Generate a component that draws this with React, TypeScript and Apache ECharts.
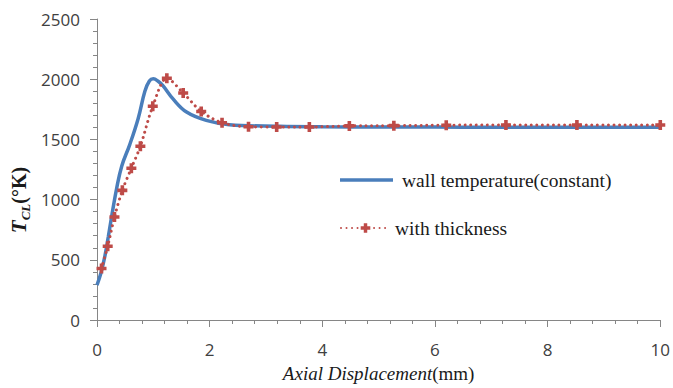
import React, { useEffect, useRef } from "react";
import * as echarts from "echarts";

const blueX = [0, 0.07, 0.14, 0.2, 0.26, 0.35, 0.44, 0.58, 0.73, 0.85, 0.93, 1.0, 1.08, 1.17, 1.35, 1.59, 1.94, 2.35, 3.24, 4, 5, 6, 7, 8, 9, 10];
const blueY = [290, 390, 530, 690, 860, 1096, 1280, 1455, 1672, 1900, 1985, 2003, 1985, 1946, 1836, 1727, 1658, 1622, 1609, 1605, 1603, 1602, 1601, 1600, 1600, 1600];

const redX = [0.08, 0.19, 0.31, 0.45, 0.61, 0.77, 0.99, 1.24, 1.53, 1.85, 2.22, 2.69, 3.19, 3.77, 4.48, 5.27, 6.2, 7.26, 8.52, 10];
const redY = [428, 612, 855, 1077, 1261, 1443, 1775, 2008, 1886, 1732, 1638, 1605, 1603, 1603, 1612, 1614, 1618, 1620, 1620, 1620];

const seriesNames = ["wall temperature(constant)", "with thickness"];
const xTicks = { min: 0, max: 10, interval: 2 };
const yTicks = { min: 0, max: 2500, interval: 500 };

const BLUE = "#4A7EBB";
const RED = "#BE4B48";
const AXIS = "#868686";
const LABEL = "#404040";
const PLUS = "path://M3.2,0 H6.8 V3.2 H10 V6.8 H6.8 V10 H3.2 V6.8 H0 V3.2 H3.2 Z";

export default function App() {
  const ref = useRef<HTMLDivElement>(null);
  useEffect(() => {
    document.body.style.margin = "0";
    const chart = echarts.init(ref.current!, null, { renderer: "svg" });
    const axisCommon = {
      type: "value" as const,
      axisLine: { show: true, lineStyle: { color: AXIS, width: 1 } },
      axisTick: { show: true, inside: false, length: 7, lineStyle: { color: AXIS } },
      minorTick: { show: true, splitNumber: 5, length: 4, lineStyle: { color: AXIS } },
      splitLine: { show: false },
      minorSplitLine: { show: false },
      axisLabel: { color: LABEL, fontFamily: "Open Sans", fontSize: 17, formatter: (v: number) => String(v) },
    };
    chart.setOption({
      animation: false,
      backgroundColor: "#fff",
      grid: { left: 97, right: 11, top: 19, bottom: 65, containLabel: false },
      xAxis: {
        ...axisCommon,
        min: xTicks.min,
        max: xTicks.max,
        interval: xTicks.interval,
        axisLabel: { ...axisCommon.axisLabel, margin: 21 },
        name: "{i|Axial Displacement}{n|(mm)}",
        nameLocation: "middle",
        nameGap: 44,
        nameTextStyle: {
          rich: {
            i: { fontFamily: "Liberation Serif", fontStyle: "italic", fontSize: 19, color: "#1a1a1a" },
            n: { fontFamily: "Liberation Serif", fontSize: 19, color: "#1a1a1a" },
          },
        },
      },
      yAxis: {
        ...axisCommon,
        min: yTicks.min,
        max: yTicks.max,
        interval: yTicks.interval,
        axisLabel: { ...axisCommon.axisLabel, margin: 17 },
      },
      legend: [
        {
          data: [{ name: seriesNames[0], icon: "rect" }],
          left: 340,
          top: 170,
          padding: 0,
          itemWidth: 53,
          itemHeight: 3.5,
          textStyle: { fontFamily: "Liberation Serif", fontSize: 19.5, color: "#1a1a1a", padding: [0, 0, 0, 4] },
        },
        {
          data: [seriesNames[1]],
          left: 340,
          top: 218,
          padding: 0,
          itemWidth: 49,
          itemHeight: 12,
          textStyle: { fontFamily: "Liberation Serif", fontSize: 19.5, color: "#1a1a1a" },
        },
      ],
      graphic: [
        {
          type: "text",
          x: 19,
          y: 200,
          rotation: Math.PI / 2,
          style: {
            text: "{t|T}{s|CL}{p|(°K)}",
            align: "center",
            verticalAlign: "middle",
            rich: {
              t: { fontFamily: "Liberation Serif", fontStyle: "italic", fontWeight: "bold", fontSize: 21, lineHeight: 26, fill: "#1a1a1a" },
              s: { fontFamily: "Liberation Serif", fontStyle: "italic", fontWeight: "bold", fontSize: 13, lineHeight: 13, verticalAlign: "bottom", fill: "#1a1a1a" },
              p: { fontFamily: "Liberation Serif", fontWeight: "bold", fontSize: 20, lineHeight: 26, fill: "#1a1a1a" },
            },
          },
        },
      ],
      series: [
        {
          name: seriesNames[0],
          type: "line",
          data: blueX.map((x, i) => [x, blueY[i]]),
          smooth: 0.4,
          symbol: "none",
          showSymbol: false,
          lineStyle: { color: BLUE, width: 3.5 },
          itemStyle: { color: BLUE },
          z: 3,
        },
        {
          name: seriesNames[1],
          type: "line",
          data: redX.map((x, i) => [x, redY[i]]),
          smooth: 0.3,
          symbol: PLUS,
          symbolSize: 10,
          showSymbol: true,
          itemStyle: { color: RED },
          lineStyle: { color: RED, width: 3, type: [0.01, 5.5], cap: "round" },
          z: 4,
        },
      ],
    });
    return () => chart.dispose();
  }, []);
  return <div ref={ref} style={{ position: "absolute", left: 0, top: 0, width: 673, height: 388, background: "#fff" }} />;
}
